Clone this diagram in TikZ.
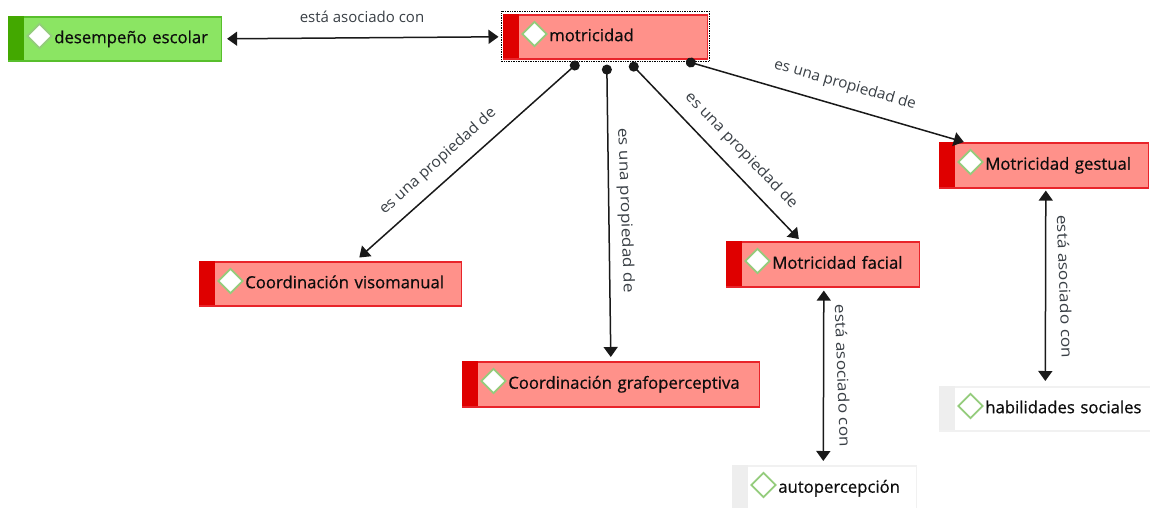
\documentclass[tikz,border=0pt]{standalone}
\usepackage{fontspec}
\setmainfont{Open Sans}
\newfontfamily\cfont[FakeBold=0.6,WordSpace=0.7]{Open Sans}
\usetikzlibrary{arrows.meta,shapes.geometric}
\definecolor{rfill}{HTML}{FF918A}
\definecolor{rline}{HTML}{E8242A}
\definecolor{rbar}{HTML}{DF0000}
\definecolor{gfill}{HTML}{8BE563}
\definecolor{gline}{HTML}{58BF2C}
\definecolor{gbar}{HTML}{43A800}
\definecolor{wline}{HTML}{F1F1F1}
\definecolor{wbar}{HTML}{EEEEEE}
\definecolor{dline}{HTML}{94CC7C}
\definecolor{labelc}{HTML}{3A4046}
\tikzset{
  x=1pt,y=-1pt,
  concept/.style={rectangle,line width=1.6pt,inner sep=0pt,anchor=north west,align=left,font=\fontsize{16.7}{19}\selectfont\cfont,text=black!95},
  redc/.style={concept,draw=rline,fill=rfill},
  greenc/.style={concept,draw=gline,fill=gfill},
  whitec/.style={concept,draw=wline,fill=white},
  dia/.style={diamond,aspect=1,inner sep=0pt,minimum size=25pt,draw=dline,line width=1.7pt,fill=white},
  biarrow/.style={{Triangle[length=10pt,width=14pt]}-{Triangle[length=10pt,width=14pt]},line width=1.5pt,black!90},
  proparrow/.style={{Circle[length=10pt,width=10pt]}-{Triangle[length=10pt,width=14pt]},line width=1.5pt,black!90},
  rel/.style={font=\fontsize{15}{18}\selectfont,text=labelc,inner sep=0pt},
}
\newcommand{\cbox}[9]{% name, style, x1,y1,x2,y2, barcolour, diamond name, text
  \node[#2,minimum width=#5pt-#3pt,minimum height=#6pt-#4pt,text width=#5pt-#3pt] (#1) at (#3,#4) {\raisebox{-4.4pt}[0pt][0pt]{\hspace*{46pt}#9}};
  \fill[#7] (#3,#4) rectangle (#3+16,#6);
  \node[dia] (#8) at (#3+32,#4+20) {};
}
\begin{document}
\begin{tikzpicture}
\useasboundingbox (1,0.5) rectangle (1151,508.5);
\fill[white] (1,0.5) rectangle (1151,508.5);
\cbox{des}{greenc}{8.5}{16.5}{221.5}{60.5}{gbar}{ddes}{desempeño escolar}
\cbox{mot}{redc}{503.5}{14.5}{707.5}{58.5}{rbar}{dmot}{motricidad}
\draw[black,line width=.7pt,densely dotted] ([shift={(-1.5,-2.5)}]mot.north west) rectangle ([shift={(1.5,1.5)}]mot.south east);
\cbox{vis}{redc}{199.5}{261.5}{461.5}{305.5}{rbar}{dvis}{Coordinación visomanual}
\cbox{gra}{redc}{462.5}{361.5}{759.5}{406.5}{rbar}{dgra}{Coordinación grafoperceptiva}
\cbox{fac}{redc}{726.5}{241.5}{919.5}{286.5}{rbar}{dfac}{Motricidad facial}
\cbox{ges}{redc}{939.5}{142.5}{1148.5}{187.5}{rbar}{dges}{Motricidad gestual}
\cbox{hab}{whitec}{939.5}{386.5}{1151.5}{430.5}{wbar}{dhab}{habilidades sociales}
\cbox{aut}{whitec}{732.5}{465.5}{916.5}{510.5}{wbar}{daut}{autopercepción}
% connectors
\draw[biarrow] ([xshift=5pt,yshift=0pt]des.east) -- ([xshift=-4pt,yshift=0pt]mot.west);
\draw[proparrow] ([xshift=-26.8pt,yshift=-2.6pt]mot.south) -- ([xshift=29pt,yshift=3.5pt]vis.north);
\draw[proparrow] ([xshift=1.5pt,yshift=-5pt]mot.south) -- ([xshift=0pt,yshift=4pt]gra.north);
\draw[proparrow] ([xshift=25pt,yshift=-3.4pt]mot.south) -- ([xshift=-24pt,yshift=2pt]fac.north);
\draw[proparrow] ([xshift=80.7pt,yshift=-1.5pt]mot.south) -- ([xshift=-80pt,yshift=0pt]ges.north);
\draw[biarrow] ([xshift=1pt,yshift=-3pt]fac.south) -- ([xshift=-1pt,yshift=4pt]aut.north);
\draw[biarrow] ([xshift=2pt,yshift=-2pt]ges.south) -- ([xshift=0pt,yshift=5pt]hab.north);
% labels
\node[rel] (l1) at (363,17.5) {está asociado con};
\node[rel,rotate=42] (l2) at (439,162) {\scalebox{1.05}[1]{es una propiedad de}};
\node[rel,rotate=-88] (l3) at (626,211) {\scalebox{1.145}[1]{es una propiedad de}};
\node[rel,rotate=-46] (l4) at (742,151) {\scalebox{1.075}[1]{es una propiedad de}};
\node[rel,rotate=-16] (l5) at (846,85.5) {\scalebox{1.02}[1]{es una propiedad de}};
\node[rel,rotate=-88] (l6) at (844,376) {\scalebox{1.145}[1]{está asociado con}};
\node[rel,rotate=-88] (l7) at (1066,287) {\scalebox{1.15}[1]{está asociado con}};
\end{tikzpicture}
\end{document}
